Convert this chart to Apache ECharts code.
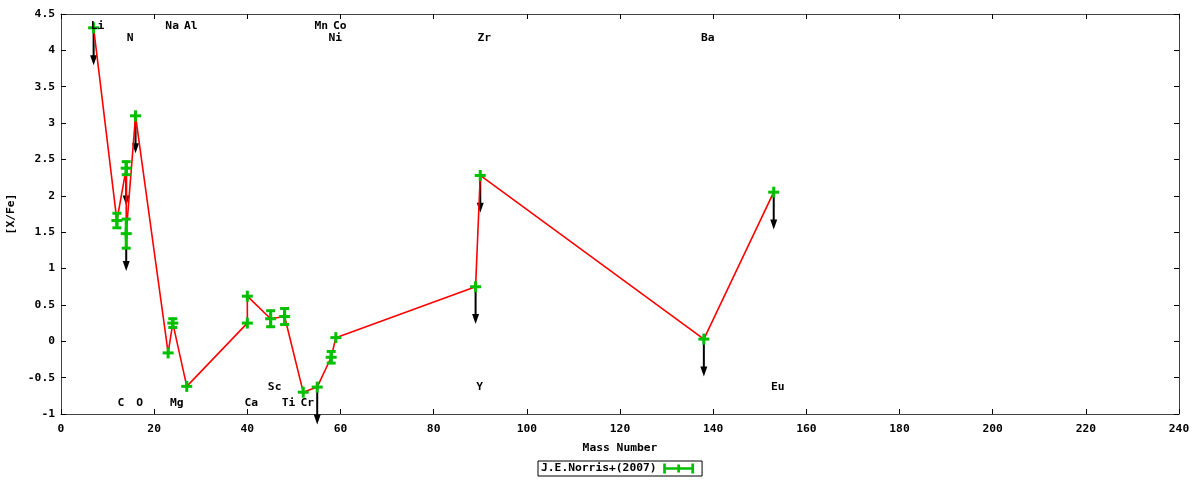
<!DOCTYPE html>
<html>
<head>
<meta charset="utf-8">
<script src="https://cdn.jsdelivr.net/npm/echarts@6/dist/echarts.min.js"></script>
<style>html,body{margin:0;padding:0;background:#fff}#chart{width:1200px;height:480px}</style>
</head>
<body>
<div id="chart"></div>
<script>
// ---- data ----
const elements   = ['Li', 'C',  'N',  'N',  'O',  'Na',  'Mg', 'Al',  'Ca', 'Ca', 'Sc', 'Ti', 'Cr',  'Mn',  'Ni',  'Co', 'Y',  'Zr', 'Ba', 'Eu'];
const masses     = [7,    12,   14,   14,   16,   23,    24,   27,    40,   40,   45,   48,   52,    55,    58,    59,   89,   90,   138,  153];
const values     = [4.31, 1.66, 2.38, 1.48, 3.10, -0.16, 0.25, -0.62, 0.25, 0.62, 0.31, 0.34, -0.70, -0.63, -0.22, 0.05, 0.75, 2.28, 0.03, 2.05];
const errors     = [0,    0.10, 0.09, 0.20, 0,    0,     0.06, 0,     0,    0,    0.11, 0.11, 0,     0,     0.08,  0,    0,    0,    0,    0];
const upperLimit = [1,    0,    1,    1,    1,    0,     0,    0,     0,    0,    0,    0,    0,     1,     0,     0,    1,    1,    1,    1];
const arrowLength = 0.5;

const labelNames = ['Li', 'Na', 'Al', 'Mn', 'Co', 'N',  'Ni', 'Zr', 'Ba', 'Sc',  'Y',   'Eu',  'C',   'O',   'Mg',  'Ca',  'Ti',  'Cr'];
const labelMass  = [7,    23,   27,   55,   59,   14,   58,   90,   138,  45,    89,    153,   12,    16,    24,    40,    48,    52];
const labelY     = [4.33, 4.33, 4.33, 4.33, 4.33, 4.17, 4.17, 4.17, 4.17, -0.63, -0.63, -0.63, -0.85, -0.85, -0.85, -0.85, -0.85, -0.85];

const seriesName = 'J.E.Norris+(2007)';
const xTicks = {min: 0, max: 240, interval: 20};
const yTicks = {min: -1, max: 4.5, interval: 0.5};

// ---- chart ----
const FONT = 'DejaVu Sans Mono';
const GREEN = '#00c000';
const pointData = masses.map((m, i) => [m, values[i], errors[i]]);
const lineData = masses.map((m, i) => [m, values[i]]);
const arrowData = masses.map((m, i) => [m, values[i]]).filter((d, i) => upperLimit[i]);
const labelData = labelNames.map((n, i) => [labelMass[i], labelY[i], n]);

const txt = {fontFamily: FONT, fontWeight: 'bold', fontSize: 11.3, color: '#000'};
const axisCommon = {
  axisLine: {show: true, onZero: false, lineStyle: {color: '#444', width: 1}},
  axisTick: {show: true, inside: true, length: 5, lineStyle: {color: '#000'}},
  splitLine: {show: false}
};

const chart = echarts.init(document.getElementById('chart'), null, {renderer: 'canvas'});
chart.setOption({
  animation: false,
  backgroundColor: '#fff',
  grid: {left: 61, right: 21, top: 14, bottom: 66, containLabel: false, outerBoundsMode: 'none'},
  legend: {
    data: [seriesName],
    left: 538, bottom: 4,
    align: 'right',
    orient: 'horizontal',
    borderColor: '#000', borderWidth: 1,
    padding: [2, 8, 2, 3],
    itemWidth: 34, itemHeight: 10, itemGap: 0,
    icon: 'path://M0,4h34v3h-34z M0,0h3v11h-3z M31,0h3v11h-3z M15.5,1h3v9h-3z',
    textStyle: Object.assign({}, txt),
    selectedMode: false
  },
  xAxis: [
    Object.assign({type: 'value', min: xTicks.min, max: xTicks.max, interval: xTicks.interval,
      name: 'Mass Number', nameLocation: 'middle', nameGap: 29, nameTextStyle: Object.assign({}, txt),
      axisLabel: Object.assign({margin: 10}, txt)}, axisCommon),
    Object.assign({type: 'value', position: 'top', min: xTicks.min, max: xTicks.max, interval: xTicks.interval,
      axisLabel: {show: false}}, axisCommon)
  ],
  yAxis: [
    Object.assign({type: 'value', min: yTicks.min, max: yTicks.max, interval: yTicks.interval,
      name: '[X/Fe]', nameLocation: 'middle', nameGap: 43, nameRotate: 90, nameTextStyle: Object.assign({}, txt),
      axisLabel: Object.assign({margin: 6}, txt)}, axisCommon),
    Object.assign({type: 'value', position: 'right', min: yTicks.min, max: yTicks.max, interval: yTicks.interval,
      axisLabel: {show: false}}, axisCommon)
  ],
  series: [
    {
      type: 'custom', name: 'limits', z: 2, clip: false, silent: true,
      data: arrowData,
      renderItem: function (params, api) {
        const s = api.coord([api.value(0), api.value(1)]);
        const e = api.coord([api.value(0), api.value(1) - arrowLength]);
        return {type: 'group', children: [
          {type: 'line', shape: {x1: s[0], y1: s[1], x2: e[0], y2: e[1] - 6}, style: {stroke: '#000', lineWidth: 2}},
          {type: 'polygon', shape: {points: [[e[0] - 3.5, e[1] - 9], [e[0] + 3.5, e[1] - 9], [e[0], e[1] + 1]]}, style: {fill: '#000'}}
        ]};
      }
    },
    {
      type: 'line', name: 'connect', z: 3, silent: true,
      data: lineData, showSymbol: false, symbol: 'none',
      lineStyle: {color: '#ff0000', width: 1.6}
    },
    {
      type: 'custom', name: seriesName, z: 4, silent: true,
      itemStyle: {color: GREEN},
      data: pointData,
      renderItem: function (params, api) {
        const x = api.value(0), y = api.value(1), err = api.value(2);
        const c = api.coord([x, y]);
        const ch = [];
        if (err > 0) {
          const t = api.coord([x, y + err]), b = api.coord([x, y - err]);
          ch.push({type: 'rect', shape: {x: c[0] - 1.5, y: t[1], width: 3, height: b[1] - t[1]}, style: {fill: GREEN}});
          ch.push({type: 'rect', shape: {x: c[0] - 4.5, y: t[1] - 1.5, width: 9, height: 3}, style: {fill: GREEN}});
          ch.push({type: 'rect', shape: {x: c[0] - 4.5, y: b[1] - 1.5, width: 9, height: 3}, style: {fill: GREEN}});
        }
        ch.push({type: 'rect', shape: {x: c[0] - 5.5, y: c[1] - 1.5, width: 11, height: 3}, style: {fill: GREEN}});
        ch.push({type: 'rect', shape: {x: c[0] - 1.5, y: c[1] - 5.5, width: 3, height: 11}, style: {fill: GREEN}});
        return {type: 'group', children: ch};
      }
    },
    {
      type: 'custom', name: 'labels', z: 5, silent: true,
      data: labelData,
      renderItem: function (params, api) {
        const c = api.coord([api.value(0), api.value(1)]);
        return {type: 'text', x: c[0] + 4, y: c[1],
          style: {text: labelData[params.dataIndex][2], fontFamily: FONT, fontWeight: 'bold', fontSize: 11.3,
            fill: '#000', align: 'center', verticalAlign: 'middle'}};
      }
    }
  ]
});
</script>
</body>
</html>
